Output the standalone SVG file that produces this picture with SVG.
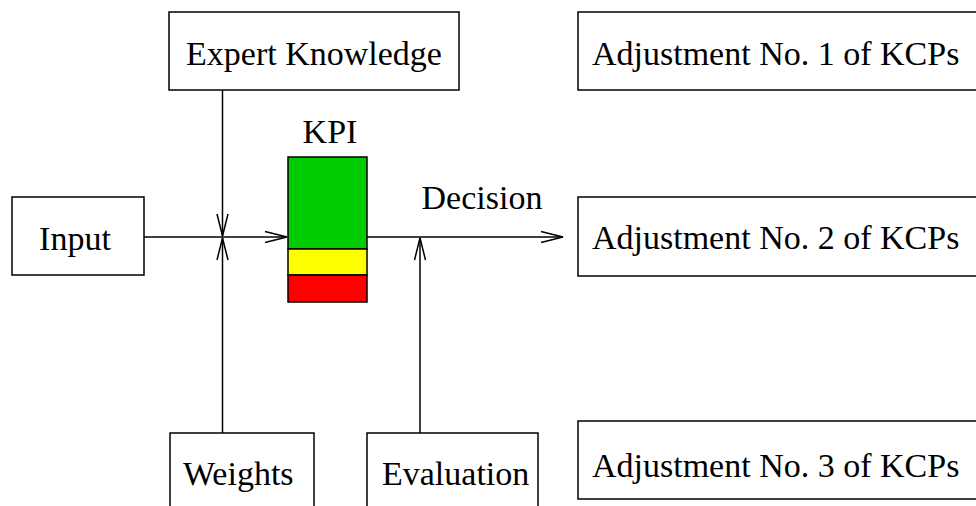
<svg xmlns="http://www.w3.org/2000/svg" width="976" height="506" viewBox="0 0 976 506">
<style>
.box{fill:#fff;stroke:#000;stroke-width:1.5}
.t{font-family:"Liberation Serif","Times New Roman",serif;font-size:34px;fill:#000}
.c{fill:none;stroke:#000;stroke-width:1.5}
</style>
<defs>
<marker id="arr" markerUnits="userSpaceOnUse" markerWidth="30" markerHeight="16" viewBox="-24 -8 26 16" refX="0" refY="0" orient="auto">
<path d="M-22,-5.5 L0,0 L-22,5.5" fill="none" stroke="#000" stroke-width="1.5"/>
</marker>
</defs>
<rect width="976" height="506" fill="#fff"/>
<g id="connectors">
<line class="c" x1="222.5" y1="90" x2="222.5" y2="236" marker-end="url(#arr)"/>
<line class="c" x1="222.5" y1="433" x2="222.5" y2="238" marker-end="url(#arr)"/>
<line class="c" x1="144" y1="237" x2="287" y2="237" marker-end="url(#arr)"/>
<line class="c" x1="367" y1="237" x2="563" y2="237" marker-end="url(#arr)"/>
<line class="c" x1="420" y1="433" x2="420" y2="238" marker-end="url(#arr)"/>
</g>
<g id="expert">
<rect class="box" x="169" y="12" width="290" height="78"/>
<text class="t" x="314" y="65" text-anchor="middle">Expert Knowledge</text>
</g>
<g id="input">
<rect class="box" x="12" y="197" width="132" height="78"/>
<text class="t" x="75" y="250" text-anchor="middle">Input</text>
</g>
<g id="kpi">
<text class="t" x="330" y="143" text-anchor="middle">KPI</text>
<rect x="288" y="157" width="79" height="92" fill="#00cc00" stroke="#000" stroke-width="1.5"/>
<rect x="288" y="249" width="79" height="26" fill="#ffff00" stroke="#000" stroke-width="1.5"/>
<rect x="288" y="275" width="79" height="27" fill="#ff0000" stroke="#000" stroke-width="1.5"/>
</g>
<g id="decision-label">
<text class="t" x="482" y="209" text-anchor="middle">Decision</text>
</g>
<g id="weights">
<rect class="box" x="170" y="433" width="144" height="90"/>
<text class="t" x="183" y="485">Weights</text>
</g>
<g id="evaluation">
<rect class="box" x="367" y="433" width="171" height="90"/>
<text class="t" x="382" y="485">Evaluation</text>
</g>
<g id="adj1">
<rect class="box" x="578" y="12" width="420" height="78"/>
<text class="t" x="592" y="65">Adjustment No. 1 of KCPs</text>
</g>
<g id="adj2">
<rect class="box" x="578" y="197" width="420" height="79"/>
<text class="t" x="592" y="249">Adjustment No. 2 of KCPs</text>
</g>
<g id="adj3">
<rect class="box" x="578" y="421" width="420" height="78"/>
<text class="t" x="592" y="477">Adjustment No. 3 of KCPs</text>
</g>
</svg>
